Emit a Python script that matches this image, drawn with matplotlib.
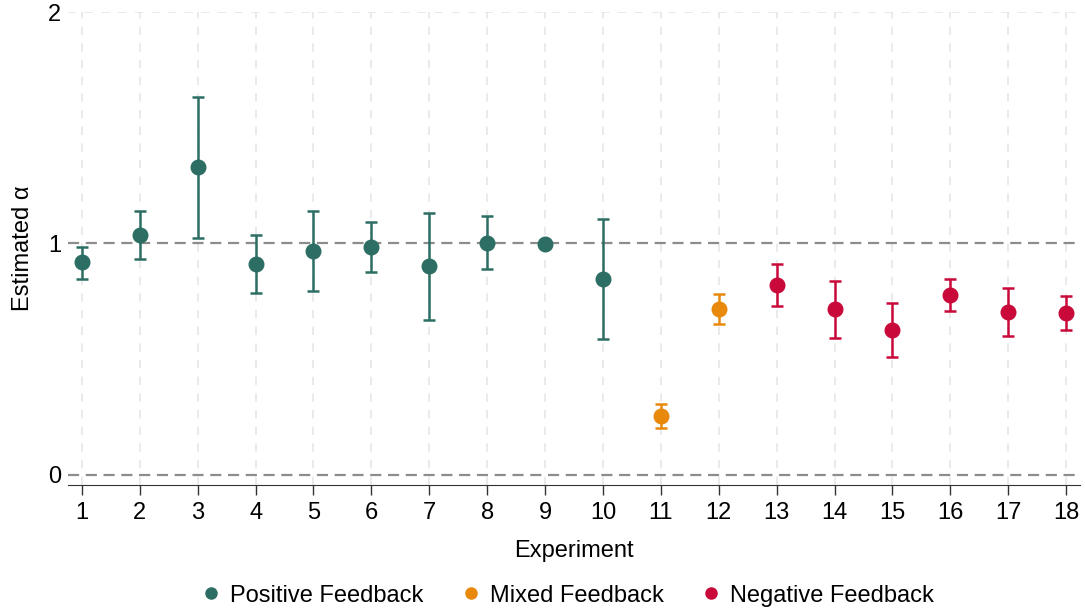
import numpy as np
import matplotlib.pyplot as plt
from matplotlib.lines import Line2D

plt.rcParams['font.family'] = ['Liberation Sans', 'DejaVu Sans']

experiments = np.arange(1, 19)
estimate = [0.920, 1.037, 1.330, 0.911, 0.968, 0.985, 0.903, 1.002, 0.998,
            0.847, 0.255, 0.717, 0.821, 0.717, 0.626, 0.778, 0.704, 0.700]
ci_low = [0.847, 0.933, 1.024, 0.786, 0.795, 0.877, 0.670, 0.890, 0.993,
          0.587, 0.203, 0.652, 0.730, 0.592, 0.510, 0.708, 0.600, 0.626]
ci_high = [0.985, 1.140, 1.633, 1.037, 1.140, 1.093, 1.132, 1.119, 1.003,
           1.106, 0.307, 0.782, 0.911, 0.838, 0.743, 0.847, 0.808, 0.773]
group = ["Positive"] * 10 + ["Mixed"] * 2 + ["Negative"] * 6

colors = {"Positive": "#2d6e64", "Mixed": "#e8890c", "Negative": "#c8093a"}
labels = {"Positive": "Positive Feedback", "Mixed": "Mixed Feedback",
          "Negative": "Negative Feedback"}
fs = 17

fig = plt.figure(figsize=(10.85, 6.09), dpi=100)
ax = fig.add_axes([0.0627, 0.2036, 0.9327, 0.7764])

# grid and reference lines
for x in experiments:
    ax.axvline(x, color="#e6e6e6", linestyle=(0, (5, 5)), linewidth=1.2, zorder=0)
ax.axhline(2, color="#e6e6e6", linestyle=(0, (5, 5)), linewidth=1.2, zorder=0)
ax.axhline(1, color="#8c8c8c", linestyle=(0, (5, 3)), linewidth=1.6, zorder=1)
ax.axhline(0, color="#8c8c8c", linestyle=(0, (5, 3)), linewidth=1.6, zorder=1)

for i, x in enumerate(experiments):
    c = colors[group[i]]
    ax.errorbar(x, estimate[i],
                yerr=[[estimate[i] - ci_low[i]], [ci_high[i] - estimate[i]]],
                fmt="o", color=c, ecolor=c, markersize=10.5, elinewidth=1.8,
                capsize=4.5, capthick=1.8, zorder=3)

ax.set_xlim(0.76, 18.24)
ax.set_ylim(-0.045, 2.0)
ax.set_xticks(experiments)
ax.set_yticks([0, 1, 2])
ax.tick_params(axis="both", labelsize=fs)
ax.tick_params(axis="x", length=7, width=1, color="#333333", pad=5)
ax.tick_params(axis="y", length=0, pad=5)
for s in ["top", "right", "left"]:
    ax.spines[s].set_visible(False)
ax.spines["bottom"].set_color("#333333")
ax.set_xlabel("Experiment", fontsize=fs, labelpad=12)
ax.set_ylabel("Estimated α", fontsize=fs, labelpad=10)

handles = [Line2D([], [], marker="o", linestyle="", color=colors[g], markersize=8)
           for g in ["Positive", "Mixed", "Negative"]]
fig.legend(handles, [labels[g] for g in ["Positive", "Mixed", "Negative"]],
           loc="center", bbox_to_anchor=(0.522, 0.022), ncol=3, frameon=False,
           fontsize=fs, handlelength=1.0, handletextpad=0.3, columnspacing=1.5,
           borderpad=0)

fig.savefig("out.png", dpi=100)
